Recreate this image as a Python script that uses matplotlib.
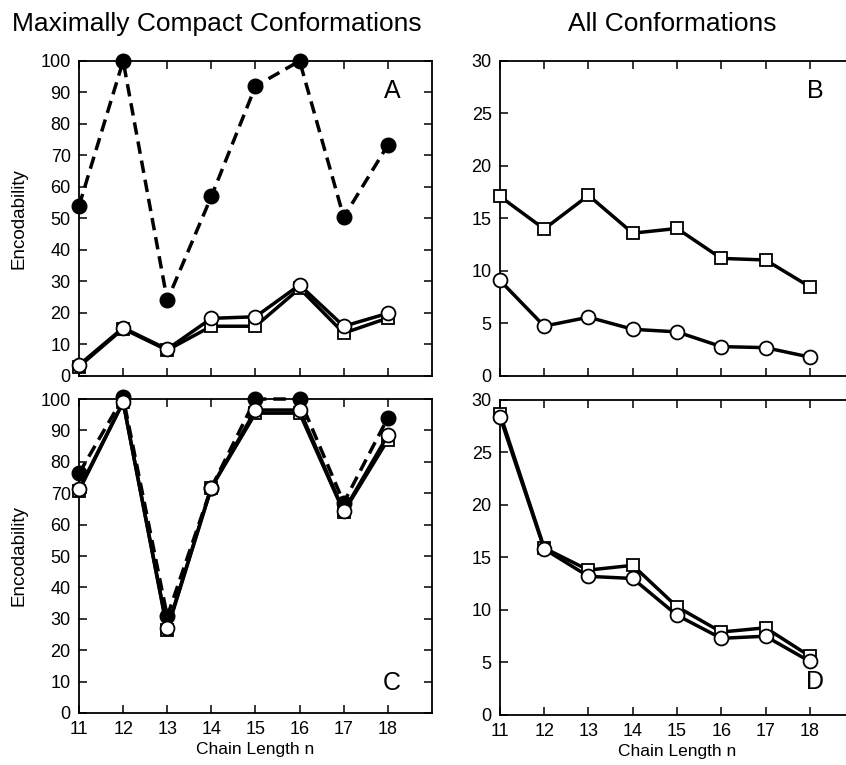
import matplotlib
matplotlib.use("Agg")
from matplotlib import pyplot
import numpy

pyplot.rcParams["font.family"] = ["Liberation Sans", "DejaVu Sans"]

chain_length = [11, 12, 13, 14, 15, 16, 17, 18]

# panel A: maximally compact, three sequence sets
a_filled = [54, 100, 24, 57, 92, 100, 50.4, 73.3]
a_square = [3, 15, 8.2, 15.8, 15.8, 27.8, 13.6, 18.4]
a_circle = [3.5, 15.3, 8.5, 18.3, 18.8, 28.9, 15.8, 19.9]

# panel B: all conformations
b_square = [17.1, 14.0, 17.2, 13.6, 14.05, 11.2, 11.05, 8.5]
b_circle = [9.1, 4.75, 5.6, 4.45, 4.2, 2.8, 2.7, 1.8]

# panel C: maximally compact
c_filled = [76.3, 100.5, 30.8, 71.8, 100, 100, 67, 94]
c_square = [70.8, 99, 26.5, 71.8, 95.5, 95.5, 64, 87]
c_circle = [71.3, 99, 27, 71.8, 96.5, 96.5, 64.3, 88.5]

# panel D: all conformations
d_square = [28.7, 15.9, 13.8, 14.25, 10.3, 7.9, 8.3, 5.6]
d_circle = [28.4, 15.8, 13.2, 13.0, 9.5, 7.3, 7.5, 5.1]

fig = pyplot.figure(figsize=(8.46, 7.65), dpi=100)
ax_a = fig.add_axes([0.0934, 0.5085, 0.4172, 0.4118])
ax_b = fig.add_axes([0.5910, 0.5085, 0.4185, 0.4118])
ax_c = fig.add_axes([0.0934, 0.0680, 0.4172, 0.4104])
ax_d = fig.add_axes([0.5910, 0.0654, 0.4185, 0.4118])

lw = 2.5


def filled_line(ax, y):
    ax.plot(chain_length, y, "-", color="black", lw=lw, dashes=(3.6, 2.0),
            marker="o", ms=10.5, mfc="black", mec="black", clip_on=False, zorder=3)


def square_line(ax, y):
    ax.plot(chain_length, y, "-", color="black", lw=lw,
            marker="s", ms=8.5, mfc="white", mec="black", mew=1.3,
            clip_on=False, zorder=4)


def circle_line(ax, y):
    ax.plot(chain_length, y, "-", color="black", lw=lw,
            marker="o", ms=10, mfc="white", mec="black", mew=1.3,
            clip_on=False, zorder=5)


filled_line(ax_a, a_filled)
square_line(ax_a, a_square)
circle_line(ax_a, a_circle)

square_line(ax_b, b_square)
circle_line(ax_b, b_circle)

filled_line(ax_c, c_filled)
square_line(ax_c, c_square)
circle_line(ax_c, c_circle)

square_line(ax_d, d_square)
circle_line(ax_d, d_circle)

for ax in (ax_a, ax_b, ax_c, ax_d):
    ax.set_xlim(11, 19)
    ax.set_xticks(chain_length)
    ax.tick_params(direction="in", top=True, right=True, length=6, width=1.1,
                   labelsize=13, pad=6)
    for s in ax.spines.values():
        s.set_linewidth(1.3)

for ax in (ax_a, ax_c):
    ax.set_ylim(0, 100)
    ax.set_yticks(numpy.arange(0, 101, 10))
    ax.set_ylabel("Encodability", fontsize=13.5, labelpad=9)

for ax in (ax_b, ax_d):
    ax.set_ylim(0, 30)
    ax.set_yticks(numpy.arange(0, 31, 5))

for ax in (ax_a, ax_b):
    ax.tick_params(labelbottom=False)

for ax in (ax_c, ax_d):
    ax.set_xlabel("Chain Length n", fontsize=12.5, labelpad=3)

ax_a.text(0.887, 0.905, "A", transform=ax_a.transAxes, fontsize=18,
          ha="center", va="center")
ax_b.text(0.89, 0.905, "B", transform=ax_b.transAxes, fontsize=18,
          ha="center", va="center")
ax_c.text(0.887, 0.095, "C", transform=ax_c.transAxes, fontsize=18,
          ha="center", va="center")
ax_d.text(0.89, 0.105, "D", transform=ax_d.transAxes, fontsize=18,
          ha="center", va="center")

fig.text(0.256, 0.968, "Maximally Compact Conformations", fontsize=19,
         ha="center", va="center")
fig.text(0.795, 0.968, "All Conformations", fontsize=19,
         ha="center", va="center")

pyplot.savefig("out.png", dpi=100)
pyplot.close()
